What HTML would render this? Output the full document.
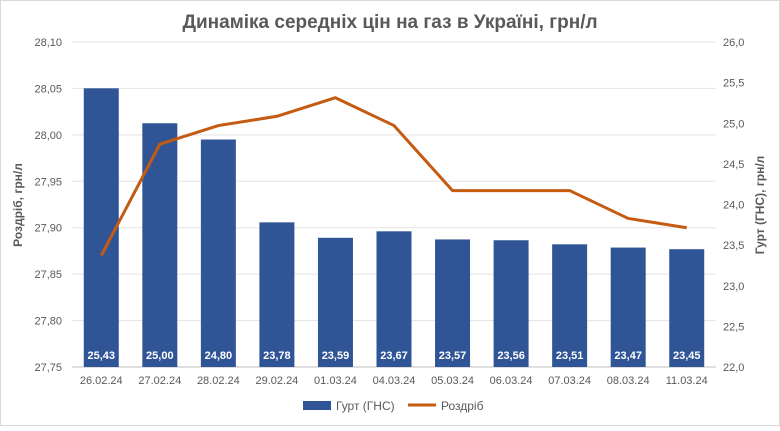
<!DOCTYPE html>
<html><head><meta charset="utf-8"><style>
body{margin:0;background:#fff;font-family:"Liberation Sans",sans-serif}
svg text{font-family:"Liberation Sans",sans-serif}
</style></head><body>
<svg width="780" height="426" viewBox="0 0 780 426">
<rect x="0.5" y="0.5" width="779" height="425" fill="#fff" stroke="#d9d9d9"/>
<text x="390" y="28" text-anchor="middle" font-size="19" font-weight="bold" fill="#595959">Динаміка середніх цін на газ в Україні, грн/л</text>
<g id="grid"></g><g id="bars"></g><g id="line"></g><g id="axes"></g>
<text transform="translate(22,205) rotate(-90)" text-anchor="middle" font-size="12" font-weight="bold" fill="#595959">Роздріб, грн/л</text>
<text transform="translate(764,205) rotate(-90)" text-anchor="middle" font-size="12" font-weight="bold" fill="#595959">Гурт (ГНС), грн/л</text>
<g>
<rect x="303" y="401" width="28" height="9" fill="#2f5597"/>
<text x="336" y="410" font-size="12" fill="#595959">Гурт (ГНС)</text>
<line x1="408" y1="405" x2="436" y2="405" stroke="#c55a11" stroke-width="3"/>
<text x="441" y="410" font-size="12" fill="#595959">Роздріб</text>
</g>
</svg>
<script>
const categories=["26.02.24","27.02.24","28.02.24","29.02.24","01.03.24","04.03.24","05.03.24","06.03.24","07.03.24","08.03.24","11.03.24"];
const wholesale=[25.43,25.00,24.80,23.78,23.59,23.67,23.57,23.56,23.51,23.47,23.45];
const retail=[27.87,27.99,28.01,28.02,28.04,28.01,27.94,27.94,27.94,27.91,27.90];
const leftTicks=["28,10","28,05","28,00","27,95","27,90","27,85","27,80","27,75"];
const rightTicks=["26,0","25,5","25,0","24,5","24,0","23,5","23,0","22,5","22,0"];
const NS="http://www.w3.org/2000/svg";
const yTop=42,yBot=367,x0=72,x1=716;
const yL=v=>yBot-(v-27.75)/0.35*(yBot-yTop);
const yR=v=>yBot-(v-22)/4*(yBot-yTop);
const step=(x1-x0)/categories.length;
const xC=i=>x0+step*(i+0.5);
function mk(t,a,p){const e=document.createElementNS(NS,t);for(const k in a)e.setAttribute(k,a[k]);document.getElementById(p).appendChild(e);return e;}
leftTicks.forEach((t,i)=>{const v=28.10-i*0.05;const y=yL(v);
 const g=mk("line",{x1:x0,x2:x1,y1:y,y2:y,stroke:i==leftTicks.length-1?"#bfbfbf":"#e3e3e3"},"grid");
 
 
 const tx=mk("text",{x:62,y:y+4,"text-anchor":"end","font-size":"11",fill:"#595959"},"axes");tx.textContent=t;
 
 });
rightTicks.forEach((t,i)=>{const y=yR(26-i*0.5);
 const tx=mk("text",{x:723,y:y+4,"font-size":"11",fill:"#595959"},"axes");tx.textContent=t;
 
 });
categories.forEach((c,i)=>{const tx=mk("text",{x:xC(i),y:384,"text-anchor":"middle","font-size":"11",fill:"#595959"},"axes");tx.textContent=c;
 
 });
wholesale.forEach((v,i)=>{const w=35,y=yR(v);
 const r=mk("rect",{x:xC(i)-w/2,y:y,width:w,height:yBot-y,fill:"#2f5597"},"bars");
 
 
 const t=mk("text",{x:xC(i),y:359,"text-anchor":"middle","font-size":"11","font-weight":"bold",fill:"#fff"},"bars");t.textContent=v.toFixed(2).replace('.',',');
 
 });
const pl=mk("polyline",{points:retail.map((v,i)=>xC(i)+","+yL(v)).join(" "),fill:"none",stroke:"#c55a11","stroke-width":"3","stroke-linejoin":"round"},"line");


</script>
</body></html>
